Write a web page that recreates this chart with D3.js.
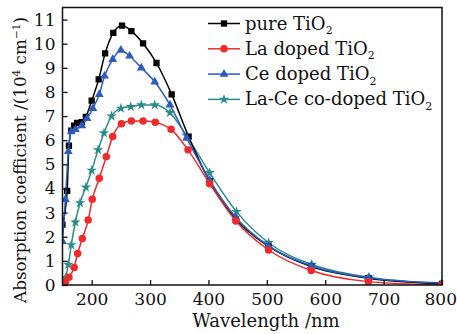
<!DOCTYPE html>
<html><head><meta charset="utf-8">
<script src="https://cdn.jsdelivr.net/npm/d3@7/dist/d3.min.js"></script>
<style>body{margin:0;background:#fff}svg{display:block}text{font-family:"DejaVu Serif",serif;fill:#111}</style>
</head><body><svg id="c" width="457" height="334"></svg>
<script>
const xTicks=[200,300,400,500,600,700,800];
const yTicks=[0,1,2,3,4,5,6,7,8,9,10,11];
const seriesNames=["pure TiO","La doped TiO","Ce doped TiO","La-Ce co-doped TiO"];
const seriesColors=["#000000","#f02a2a","#2b5bbd","#2a8c88"];
const seriesShapes=["square","circle","triangle","star"];
const pureX=[150,158,161,165,170,175,183,190,200,212,223,237,252,268,288,311,337,366,402,447,503,576,674,800];
const pureY=[2.5,3.9,5.77,6.4,6.6,6.72,6.75,6.97,7.64,8.52,9.6,10.45,10.75,10.52,10.01,9.2,7.9,6.15,4.3,2.72,1.6,0.76,0.28,0.05];
const laX=[150,155,161,170,176,184,194,201,213,225,236,251,268,288,309,336,365,402,447,503,576,674,800];
const laY=[0.02,0.12,0.32,0.73,1.31,1.93,2.69,3.55,4.42,5.32,6.15,6.68,6.8,6.8,6.74,6.45,5.6,4.2,2.65,1.45,0.6,0.14,0.0];
const ceX=[150,155,160,165,172,183,192,202,213,222,236,250,265,285,308,334,363,402,447,503,576,674,800];
const ceY=[1.8,3.55,5.53,6.35,6.45,6.6,6.9,7.32,7.9,8.66,9.35,9.73,9.49,9.0,8.42,7.46,6.08,4.35,2.8,1.62,0.8,0.3,0.08];
const lcX=[150,155,160,165,172,180,190,200,211,221,234,250,267,285,308,334,362,402,448,503,577,675,800];
const lcY=[0.05,0.3,0.85,1.66,2.6,3.4,4.05,4.75,5.6,6.3,7.0,7.32,7.39,7.46,7.46,7.14,6.2,4.65,3.04,1.75,0.85,0.32,0.05];
const seriesX=[pureX,laX,ceX,lcX];
const seriesY=[pureY,laY,ceY,lcY];

const svg=d3.select("#c");
const L=62.5,R=442,T=7.5,B=285;
const x=d3.scaleLinear().domain([150,800]).range([L,R]);
const y=d3.scaleLinear().domain([0,11.5]).range([B,T]);

const sym={square:d3.symbolSquare,circle:d3.symbolCircle,triangle:d3.symbolTriangle,star:d3.symbolStar};
const size={square:40,circle:44,triangle:34,star:34};

const line=d3.line().x(d=>x(d[0])).y(d=>y(d[1])).curve(d3.curveMonotoneX);
svg.append("clipPath").attr("id","cp").append("rect").attr("x",L).attr("y",T).attr("width",R-L).attr("height",B-T);
const g=svg.append("g").attr("clip-path","url(#cp)");
[3,0,2,1].forEach(i=>{
  const pts=seriesX[i].map((v,k)=>[v,seriesY[i][k]]);
  g.append("path").datum(pts).attr("d",line).attr("fill","none").attr("stroke",seriesColors[i]).attr("stroke-width",1.5);
  g.selectAll(null).data(pts).enter().append("path")
   .attr("d",d3.symbol().type(sym[seriesShapes[i]]).size(size[seriesShapes[i]]))
   .attr("transform",d=>`translate(${x(d[0])},${y(d[1])})`).attr("fill",seriesColors[i]);
});

svg.append("rect").attr("x",L).attr("y",T).attr("width",R-L).attr("height",B-T).attr("fill","none").attr("stroke","#111").attr("stroke-width",1.5);
const xa=svg.append("g").attr("transform",`translate(0,${B})`).call(d3.axisBottom(x).tickValues(xTicks).tickSizeInner(-5).tickSizeOuter(0).tickPadding(8));
xa.select(".domain").remove();
xa.selectAll("line").attr("stroke","#111").attr("stroke-width",1.3);
xa.selectAll("text").attr("font-size",17).attr("font-family","DejaVu Serif").attr("fill","#111");
xa.selectAll(".tick").filter(d=>d===800).select("text").attr("text-anchor","end").attr("x",14.5);
const ya=svg.append("g").attr("transform",`translate(${L},0)`).call(d3.axisLeft(y).tickValues(yTicks).tickSizeInner(-5).tickSizeOuter(0).tickPadding(7));
ya.select(".domain").remove();
ya.selectAll("line").attr("stroke","#111").attr("stroke-width",1.3);
ya.selectAll("text").attr("font-size",17).attr("font-family","DejaVu Serif").attr("fill","#111");

svg.append("text").attr("x",266).attr("y",327).attr("text-anchor","middle").attr("font-size",18).text("Wavelength /nm");
const yl=svg.append("text").attr("transform","translate(26,160) rotate(-90)").attr("text-anchor","middle").attr("font-size",16.8);
yl.append("tspan").text("Absorption coefficient /(10");
yl.append("tspan").attr("font-size",10.5).attr("dy",-6.5).text("4");
yl.append("tspan").attr("dy",6.5).text(" cm");
yl.append("tspan").attr("font-size",10.5).attr("dy",-6.5).text("−1");
yl.append("tspan").attr("dy",6.5).text(")");

seriesNames.forEach((n,i)=>{
  const yy=23.5+i*25.3;
  svg.append("line").attr("x1",208).attr("x2",240).attr("y1",yy).attr("y2",yy).attr("stroke",seriesColors[i]).attr("stroke-width",1.5);
  svg.append("path").attr("d",d3.symbol().type(sym[seriesShapes[i]]).size(size[seriesShapes[i]])).attr("transform",`translate(224,${yy})`).attr("fill",seriesColors[i]);
  const t=svg.append("text").attr("x",245).attr("y",yy+6).attr("font-size",18);
  t.append("tspan").text(n);
  t.append("tspan").attr("font-size",11).attr("dy",4.5).text("2");
});
</script></body></html>
